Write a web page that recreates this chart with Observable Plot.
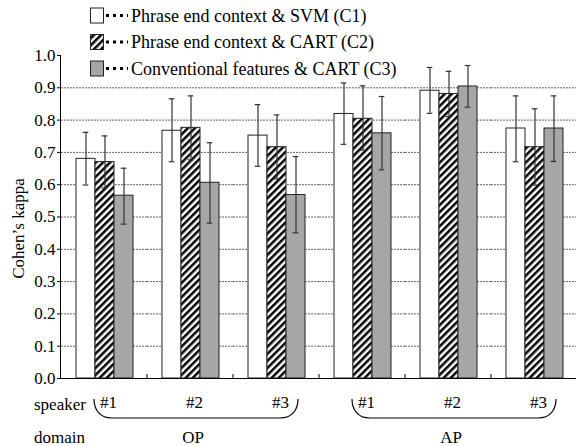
<!DOCTYPE html>
<html><head><meta charset="utf-8">
<script src="https://cdn.jsdelivr.net/npm/d3@7"></script>
<script src="https://cdn.jsdelivr.net/npm/@observablehq/plot@0.6"></script>
<style>
html,body{margin:0;padding:0;overflow:hidden;background:#fff;}
</style></head><body><div id="chart"></div>
<script>
// ---- data ----
const domains  = ["OP", "OP", "OP", "AP", "AP", "AP"];
const speakers = ["#1", "#2", "#3", "#1", "#2", "#3"];
const seriesKeys  = ["C1", "C2", "C3"];
const seriesNames = ["Phrase end context & SVM (C1)", "Phrase end context & CART (C2)", "Conventional features & CART (C3)"];

const c1   = [0.680, 0.767, 0.752, 0.819, 0.891, 0.774];
const c1Lo = [0.599, 0.671, 0.657, 0.725, 0.821, 0.671];
const c1Hi = [0.762, 0.866, 0.848, 0.915, 0.963, 0.875];

const c2   = [0.670, 0.776, 0.716, 0.804, 0.881, 0.716];
const c2Lo = [0.590, 0.677, 0.618, 0.707, 0.811, 0.599];
const c2Hi = [0.751, 0.875, 0.816, 0.906, 0.951, 0.835];

const c3   = [0.566, 0.606, 0.568, 0.759, 0.904, 0.774];
const c3Lo = [0.478, 0.481, 0.451, 0.646, 0.840, 0.672];
const c3Hi = [0.651, 0.730, 0.687, 0.873, 0.969, 0.875];

const yTicks = [0.0, 0.1, 0.2, 0.3, 0.4, 0.5, 0.6, 0.7, 0.8, 0.9, 1.0];
const gridValues = [0.1, 0.2, 0.3, 0.4, 0.5, 0.6, 0.7, 0.8, 0.9];
const yLabel = "Cohen’s kappa";
const rowLabels = ["speaker", "domain"];

// ---- styles ----
const seriesFills = ["#ffffff", "url(#hatch)", "#a6a6a6"];
const FONT = "Liberation Serif, Times New Roman, serif";
const FS = 17;

// ---- table ----
const groups = domains.map((d, i) => d + " " + speakers[i]);
const vals = [c1, c2, c3], los = [c1Lo, c2Lo, c3Lo], his = [c1Hi, c2Hi, c3Hi];
const rows = [];
groups.forEach((g, i) => seriesKeys.forEach((s, j) => {
  rows.push({group: g, series: s, value: vals[j][i], lo: los[j][i], hi: his[j][i]});
}));

const plot = Plot.plot({
  width: 576, height: 446,
  marginTop: 55, marginBottom: 68, marginLeft: 59, marginRight: -3,
  style: {background: "transparent", overflow: "hidden", color: "#000"},
  fx: {domain: groups, padding: 0, label: null},
  x: {domain: seriesKeys, paddingInner: 0, paddingOuter: 0.74, axis: null},
  y: {domain: [0, 1], label: null},
  color: {type: "ordinal", domain: seriesKeys, range: seriesFills},
  marks: [
    Plot.ruleY(gridValues, {stroke: "#666", strokeWidth: 1, strokeDasharray: "2,1"}),
    Plot.barY(rows, {fx: "group", x: "series", y: "value", fill: "series", stroke: "#222", strokeWidth: 1, inset: 0}),
    Plot.ruleX(rows, {fx: "group", x: "series", y1: "lo", y2: "hi", stroke: "#333", strokeWidth: 1.2}),
    Plot.tickY(rows, {fx: "group", x: "series", y: "hi", stroke: "#333", strokeWidth: 1.2, insetLeft: 6.7, insetRight: 6.7}),
    Plot.tickY(rows, {fx: "group", x: "series", y: "lo", stroke: "#333", strokeWidth: 1.2, insetLeft: 6.7, insetRight: 6.7}),
    Plot.ruleY([0], {stroke: "#000", strokeWidth: 1}),
    Plot.axisY({ticks: yTicks, tickFormat: d => d.toFixed(1), tickSize: 4, tickPadding: 2, label: null}),
    Plot.axisFx({anchor: "bottom", tickSize: 0, tickPadding: 17, tickFormat: g => speakers[groups.indexOf(g)], label: null, dx: 4})
  ]
});

document.getElementById("chart").appendChild(plot);

// ---- annotations using the plot's own scales ----
const svg = d3.select(plot.tagName.toLowerCase() === "svg" ? plot : plot.querySelector("svg"));
const defs = svg.insert("defs", ":first-child");
const pat = defs.append("pattern").attr("id", "hatch").attr("patternUnits", "userSpaceOnUse")
  .attr("width", 5).attr("height", 5).attr("patternTransform", "rotate(45)");
pat.append("rect").attr("width", 5).attr("height", 5).attr("fill", "#fff");
pat.append("rect").attr("width", 2.5).attr("height", 5).attr("fill", "#000");

const ys = plot.scale("y");
const fxs = plot.scale("fx");
const yPos = v => ys.apply(v);
let fxPos, bw;
if (fxs.apply) { fxPos = g => fxs.apply(g); bw = fxs.bandwidth; }
else {
  const b = d3.scaleBand().domain(fxs.domain).range(fxs.range)
    .paddingInner(fxs.paddingInner ?? 0).paddingOuter(fxs.paddingOuter ?? 0).align(fxs.align ?? 0.5);
  fxPos = g => b(g); bw = b.bandwidth();
}

const ann = svg.append("g").attr("fill", "#000");
const leftX = fxPos(groups[0]);
// y axis line
ann.append("line").attr("x1", leftX - 0.5).attr("x2", leftX - 0.5)
  .attr("y1", yPos(0)).attr("y2", yPos(1)).attr("stroke", "#000");
// separators at group boundaries
groups.forEach((g, i) => {
  const xs = i > 0 ? [fxPos(g)] : [];
  if (i === groups.length - 1) xs.push(fxPos(g) + bw);
  xs.forEach(x => ann.append("line").attr("x1", x).attr("x2", x)
    .attr("y1", yPos(0)).attr("y2", yPos(0) - 4).attr("stroke", "#000"));
});
// y label
const yMid = (yPos(0) + yPos(1)) / 2 + 12;
ann.append("text").attr("transform", `translate(18,${yMid}) rotate(-90)`)
  .attr("text-anchor", "middle").attr("dy", "0.35em").text(yLabel);
// row labels
ann.append("text").attr("x", 34).attr("y", 404).attr("dy", "0.35em").attr("text-anchor", "start").text(rowLabels[0]);
ann.append("text").attr("x", 34).attr("y", 437).attr("dy", "0.35em").attr("text-anchor", "start").text(rowLabels[1]);
// braces + domain labels
const uniqueDomains = [...new Set(domains)];
uniqueDomains.forEach(dom => {
  const idx = domains.map((d, i) => d === dom ? i : -1).filter(i => i >= 0);
  const first = groups[idx[0]], last = groups[idx[idx.length - 1]], mid = groups[idx[Math.floor(idx.length / 2)]];
  const x0 = fxPos(first) + 33, x1 = fxPos(last) + bw - 21;
  const yt = 399, yb = 418;
  ann.append("path").attr("fill", "none").attr("stroke", "#000").attr("stroke-width", 1.2)
    .attr("d", `M${x0},${yt} C${x0},${yb - 8} ${x0 + 6},${yb} ${x0 + 18},${yb} L${x1 - 18},${yb} C${x1 - 6},${yb} ${x1},${yb - 8} ${x1},${yt}`);
  ann.append("text").attr("x", fxPos(mid) + bw / 2 + 3).attr("y", 437).attr("dy", "0.35em")
    .attr("text-anchor", "middle").text(dom);
});
// legend
const legendTexts = [];
seriesNames.forEach((name, i) => {
  const cy = 15.5 + i * 26.5;
  ann.append("rect").attr("x", 90.5).attr("y", cy - 7.5).attr("width", 13).attr("height", 15)
    .attr("fill", seriesFills[i]).attr("stroke", "#222");
  ann.append("line").attr("x1", 106).attr("x2", 128).attr("y1", cy).attr("y2", cy)
    .attr("stroke", "#000").attr("stroke-width", 3).attr("stroke-dasharray", "3,4");
  legendTexts.push(ann.append("text").attr("x", 131).attr("y", cy).attr("dy", "0.35em").attr("text-anchor", "start").text(name));
});
// fonts on every text element
svg.selectAll("text").attr("font-family", FONT).attr("font-size", FS).style("font-family", FONT).style("font-size", FS + "px");
legendTexts.forEach(t => t.attr("font-size", 18).style("font-size", "18px"));
</script></body></html>
